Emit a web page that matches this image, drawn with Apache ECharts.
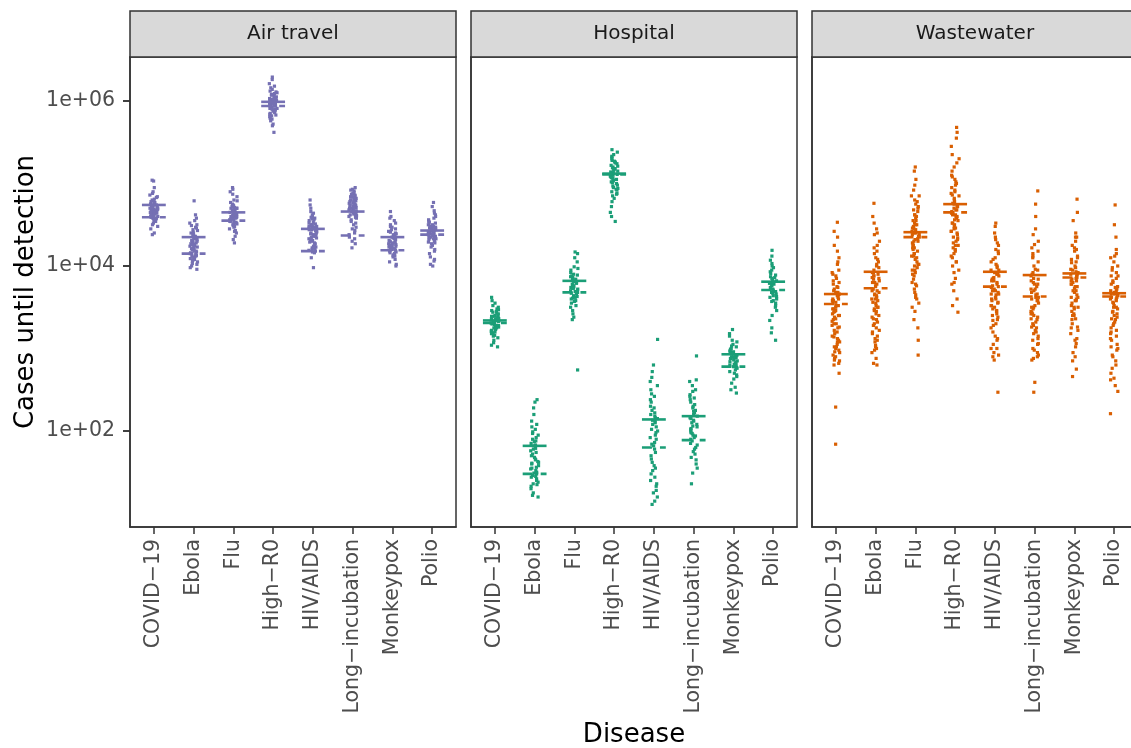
<!DOCTYPE html>
<html>
<head>
<meta charset="utf-8">
<script src="https://cdn.jsdelivr.net/npm/echarts@6/dist/echarts.min.js"></script>
<style>
  html, body { margin: 0; padding: 0; background: #ffffff; }
  #chart { width: 1131px; height: 748px; }
</style>
</head>
<body>
<div id="chart"></div>
<script>
// ---------- DATA (values are log10 of "cases until detection") ----------
const diseases = ['COVID\u221219', 'Ebola', 'Flu', 'High\u2212R0', 'HIV/AIDS', 'Long\u2212incubation', 'Monkeypox', 'Polio'];
const facets = ['Air travel', 'Hospital', 'Wastewater'];
const yTickValues = [100, 10000, 1000000];

// Air travel
const airCovid = [4.72,4.65,4.81,4.58,4.69,4.77,4.62,4.88,4.55,4.70,4.66,4.74,4.60,4.83,4.52,4.68,4.79,4.63,4.71,4.57,4.95,4.67,4.61,4.75,4.50,4.64,4.86,4.59,4.73,4.69,4.54,4.80,4.66,4.62,4.76,4.48,4.70,5.03,4.58,4.65,4.84,4.61,4.72,4.56,4.68,5.04,4.63,4.78,4.45,4.67,4.60,4.74,4.40,4.90,4.64,4.57,4.71,4.38,4.68,4.62,4.75,4.58,4.70,4.65];
const airEbola = [4.35,4.22,4.41,4.15,4.28,4.47,4.10,4.33,4.19,4.52,4.26,4.08,4.38,4.13,4.30,4.44,4.21,4.05,4.36,4.17,4.58,4.24,4.11,4.32,4.49,4.14,4.27,4.02,4.40,4.20,4.79,4.29,4.07,4.34,4.16,4.55,4.23,4.00,4.31,4.12,4.46,4.25,3.98,4.37,4.18,4.62,4.09,4.28,4.43,3.96,4.21,4.06,4.39,4.15,4.50,4.26,4.03,4.33,4.18,4.24,4.12,4.30];
const airFlu = [4.65,4.58,4.72,4.51,4.62,4.80,4.55,4.68,4.47,4.75,4.60,4.53,4.70,4.43,4.66,4.84,4.57,4.63,4.49,4.73,4.59,4.90,4.54,4.67,4.40,4.61,4.77,4.52,4.64,4.45,4.71,4.56,4.95,4.60,4.69,4.36,4.58,4.74,4.50,4.66,4.87,4.54,4.62,4.32,4.70,4.57,4.79,4.48,4.64,4.28,4.61,4.93,4.55,4.68,4.42,4.59,4.63,4.57,4.70,4.52];
const airHighR0 = [5.98,5.92,6.05,5.87,6.01,5.95,6.12,5.83,5.99,6.08,5.90,6.03,5.79,5.96,6.16,5.88,6.00,5.93,6.21,5.85,6.06,5.97,5.76,6.02,5.91,6.10,5.81,5.94,6.14,5.89,6.04,5.72,5.98,6.26,5.86,6.00,5.95,6.09,5.78,5.92,6.18,5.84,6.03,5.96,5.70,6.07,5.90,6.29,5.97,5.82,6.01,5.62,5.94,6.11,5.88,5.99,5.96,6.02,5.91,5.98];
const airHiv = [4.45,4.38,4.55,4.29,4.50,4.41,4.62,4.33,4.47,4.24,4.58,4.36,4.52,4.20,4.44,4.66,4.31,4.49,4.39,4.18,4.57,4.34,4.46,4.27,4.60,4.42,4.22,4.53,4.37,4.70,4.30,4.48,4.19,4.43,4.56,4.26,4.40,4.64,4.32,4.51,4.17,4.45,4.35,4.74,4.23,4.47,4.28,4.59,4.39,4.80,4.21,4.44,4.10,4.33,3.98,4.48,4.16,4.36,4.42,4.50,4.38,4.46];
const airLong = [4.78,4.70,4.85,4.62,4.74,4.91,4.66,4.81,4.58,4.73,4.88,4.64,4.76,4.54,4.83,4.68,4.93,4.60,4.79,4.71,4.50,4.86,4.65,4.75,4.95,4.56,4.72,4.82,4.61,4.77,4.47,4.69,4.89,4.63,4.80,4.43,4.74,4.67,4.92,4.38,4.59,4.84,4.35,4.70,4.52,4.33,4.76,4.30,4.62,4.27,4.87,4.40,4.22,4.66,4.45,4.80,4.72,4.78,4.68,4.84];
const airMonkeypox = [4.35,4.27,4.42,4.21,4.31,4.48,4.18,4.38,4.24,4.55,4.29,4.14,4.40,4.22,4.33,4.60,4.19,4.36,4.26,4.11,4.45,4.30,4.16,4.37,4.23,4.52,4.28,4.08,4.41,4.20,4.34,4.13,4.47,4.25,4.66,4.17,4.39,4.05,4.32,4.22,4.50,4.15,4.29,4.02,4.36,4.19,4.44,4.00,4.26,4.58,4.12,4.33,4.28,4.24,4.35,4.20];
const airPolio = [4.42,4.36,4.50,4.31,4.45,4.39,4.56,4.28,4.47,4.34,4.62,4.40,4.25,4.52,4.37,4.44,4.20,4.58,4.33,4.48,4.41,4.15,4.54,4.38,4.67,4.30,4.46,4.35,4.11,4.50,4.42,4.72,4.27,4.43,4.06,4.39,4.60,4.32,4.49,4.23,4.44,4.77,4.36,4.02,4.53,4.29,4.41,4.00,4.47,4.34,4.64,4.18,4.40,4.08,4.45,4.38,4.43,4.33,4.48];

// Hospital
const hospCovid = [3.34,3.28,3.41,3.22,3.37,3.31,3.46,3.25,3.39,3.19,3.33,3.50,3.27,3.43,3.21,3.36,3.30,3.55,3.16,3.38,3.24,3.45,3.32,3.13,3.40,3.26,3.58,3.35,3.20,3.42,3.29,3.10,3.47,3.23,3.37,3.62,3.18,3.33,3.07,3.44,3.28,3.52,3.15,3.36,3.04,3.31,3.48,3.25,3.02,3.39,3.33,3.30,3.36];
const hospEbola = [1.82,1.65,1.95,1.52,1.74,2.05,1.45,1.88,1.60,1.38,1.99,1.70,1.48,2.12,1.56,1.79,1.33,1.92,1.63,1.42,2.20,1.68,1.50,1.85,1.36,1.76,2.02,1.54,1.30,1.90,1.46,1.72,2.28,1.58,1.40,1.83,1.62,1.25,1.97,1.49,2.35,1.66,1.44,1.78,1.22,2.38,1.55,1.87,1.35,2.08,1.20,1.61];
const hospFlu = [3.78,3.70,3.86,3.64,3.81,3.92,3.58,3.75,3.88,3.67,3.99,3.73,3.61,3.84,3.55,3.79,4.05,3.69,3.90,3.50,3.77,3.63,3.95,3.72,3.46,3.83,3.66,4.10,3.60,3.87,3.74,3.42,3.80,3.68,4.15,3.57,3.85,3.38,3.71,3.97,3.62,4.17,3.76,3.52,3.89,3.35,3.73,2.74];
const hospHighR0 = [5.12,5.05,5.20,4.98,5.15,5.28,5.08,4.92,5.22,5.02,5.32,5.10,4.88,5.18,5.00,5.35,5.07,4.95,5.25,5.13,4.85,5.03,5.30,5.16,4.90,5.09,5.38,4.97,5.21,5.04,4.82,5.27,5.11,4.94,5.19,5.41,4.78,5.06,5.24,4.87,5.14,4.72,5.33,5.01,4.65,5.17,4.93,4.60,5.26,5.08,4.54];
const hospHiv = [2.15,1.98,2.30,1.82,2.08,2.45,1.70,2.20,1.55,2.38,1.92,2.12,1.40,2.55,1.78,2.25,1.62,2.02,2.65,1.48,2.18,1.86,2.10,1.33,2.42,1.95,1.66,2.28,1.25,2.05,2.72,1.58,2.16,1.74,1.20,2.35,1.90,2.80,1.44,2.22,1.52,2.00,1.15,2.50,1.36,1.84,2.60,1.28,1.11,2.13,3.11];
const hospLong = [2.18,2.05,2.30,1.95,2.12,2.40,1.88,2.22,2.00,2.48,1.80,2.15,2.35,1.92,2.08,2.55,1.72,2.25,2.02,1.85,2.44,2.10,1.65,2.28,1.97,2.60,1.78,2.16,2.38,1.90,1.60,2.20,2.06,2.62,1.75,2.32,1.94,1.55,2.13,2.50,1.83,2.24,1.68,2.03,1.49,2.42,1.98,1.36,2.91];
const hospMonkeypox = [2.90,2.83,2.97,2.77,2.92,3.05,2.72,2.88,3.00,2.80,3.10,2.86,2.68,2.95,2.79,3.15,2.85,2.63,2.99,2.74,3.02,2.90,2.58,2.82,3.08,2.76,2.94,2.53,2.87,3.18,2.70,2.96,2.81,3.23,2.66,2.89,2.50,2.84,3.03,2.46,2.91,2.78];
const hospPolio = [3.78,3.70,3.86,3.63,3.80,3.93,3.57,3.74,3.89,3.66,4.00,3.76,3.52,3.84,3.69,4.07,3.60,3.82,3.72,3.46,3.91,3.67,4.12,3.77,3.55,3.87,3.62,3.40,3.95,3.73,4.19,3.58,3.81,3.34,3.68,3.98,3.50,3.85,3.25,3.71,4.03,3.19,3.79,3.10,3.64];

// Wastewater
const wwCovid = [3.55,3.20,3.85,3.05,3.62,4.10,3.38,2.95,3.72,3.48,4.25,3.12,3.58,2.88,3.90,3.30,3.66,3.00,4.02,3.42,3.15,3.78,2.92,3.52,4.35,3.25,3.60,2.85,3.82,3.35,3.08,3.95,3.45,3.18,4.18,3.68,2.98,3.40,3.75,3.02,4.53,3.28,3.50,2.82,3.88,3.10,3.65,3.33,4.42,2.90,3.56,3.22,3.70,2.80,3.46,2.70,2.29,1.84,3.52,3.36,3.74,3.08,3.44,3.92,3.26,3.60,2.96,3.68,3.14,3.80,3.48,3.02,3.58,3.30,4.05,3.40,2.86,3.64];
const wwEbola = [3.75,3.40,4.05,3.20,3.88,4.30,3.55,3.02,3.95,3.65,4.45,3.30,3.82,2.95,4.15,3.48,3.70,3.12,4.22,3.60,3.35,4.00,3.08,3.78,4.60,3.45,3.85,2.88,4.10,3.52,3.25,3.92,3.68,3.15,4.38,3.80,3.00,3.58,4.02,3.38,4.76,3.62,3.28,3.90,2.82,4.18,3.72,3.42,3.98,3.18,4.52,3.66,2.80,3.86,3.50,3.70,3.46,3.92,3.22,3.84,4.08,3.56,3.10,3.76,3.36,4.25,3.64,2.98,3.88,3.50,4.40,3.32,3.80,3.04,3.60];
const wwFlu = [4.40,4.15,4.62,3.95,4.35,4.80,4.05,4.52,3.80,4.28,4.70,3.65,4.45,4.10,4.92,3.88,4.33,4.58,3.72,4.20,4.98,4.00,4.48,3.55,4.38,4.75,3.92,4.25,4.66,3.60,4.42,4.12,5.05,3.84,4.30,4.55,3.45,4.18,4.85,3.98,4.36,3.35,4.60,4.08,5.15,3.76,4.46,3.25,4.22,4.72,3.68,4.02,5.20,3.10,4.50,2.92,4.32,4.38,4.12,4.55,3.90,4.44,4.68,4.02,4.30,3.78,4.50,4.22,4.85,3.62,4.40,4.15,4.62,3.50,4.26,4.78,3.95];
const wwHighR0 = [4.70,4.45,4.95,4.25,4.65,5.10,4.35,4.82,4.10,4.58,5.25,4.00,4.75,4.40,5.02,4.18,4.62,4.88,3.92,4.52,5.35,4.30,4.72,3.85,4.55,5.15,4.22,4.68,4.92,3.78,4.48,5.45,4.12,4.78,4.38,5.05,3.70,4.60,4.85,4.05,5.55,4.28,4.66,3.60,4.98,4.42,5.62,4.15,4.76,3.52,4.50,5.20,4.32,5.68,3.44,4.64,4.68,4.42,4.90,4.20,4.60,5.08,4.34,4.80,4.05,4.56,5.30,3.95,4.72,4.46,5.00,4.25,4.62,3.80,4.86,4.52];
const wwHiv = [3.85,3.60,4.05,3.42,3.78,4.20,3.55,3.95,3.25,3.70,4.32,3.48,3.88,3.10,4.10,3.65,3.82,3.35,4.40,3.58,3.00,3.92,3.72,4.25,3.38,3.80,2.95,4.00,3.62,4.48,3.30,3.75,4.15,3.50,2.90,3.86,3.68,4.52,3.20,3.98,3.45,4.35,3.15,3.76,2.86,4.08,3.52,3.90,3.05,3.66,2.47,3.82,3.56,4.02,3.40,3.74,4.18,3.28,3.90,3.12,3.66,4.28,3.46,3.84,3.00,3.60,3.95,3.34,3.70,2.92,3.52];
const wwLong = [3.70,3.45,3.95,3.25,3.62,4.15,3.38,3.82,3.10,3.55,4.30,3.30,3.75,3.00,4.05,3.50,3.68,3.18,4.45,3.42,2.95,3.88,3.60,4.22,3.35,3.78,2.90,4.00,3.48,4.60,3.22,3.65,4.10,3.40,2.88,3.85,3.58,4.75,3.15,3.92,3.32,4.38,3.05,3.72,2.86,4.91,3.52,3.80,3.28,4.18,2.59,2.47,3.66,3.42,3.90,3.20,3.58,4.12,3.36,3.78,3.06,3.50,4.26,2.98,3.72,3.26,3.96,3.44,3.62,3.12,3.84,2.92];
const wwMonkeypox = [3.88,3.62,4.08,3.45,3.82,4.25,3.55,3.95,3.30,3.75,4.40,3.50,3.90,3.18,4.12,3.68,3.85,3.40,4.55,3.60,3.10,4.00,3.78,4.30,3.35,3.92,3.02,4.18,3.70,4.65,3.25,3.80,4.05,3.48,2.95,3.98,3.65,4.81,3.22,3.86,3.42,4.35,2.85,3.73,2.75,4.22,3.58,2.66,3.93,3.12,3.84,3.58,4.04,3.40,3.78,4.20,3.50,3.90,3.26,3.70,4.35,3.06,3.82,3.62,4.10,3.36,3.96,2.90,3.75,3.52];
const wwPolio = [3.65,3.40,3.85,3.22,3.60,4.05,3.30,3.75,3.05,3.52,4.20,3.15,3.70,2.90,3.92,3.45,3.62,2.98,4.35,3.35,2.80,3.80,3.55,4.10,3.25,3.68,2.70,3.95,3.42,4.50,3.10,3.58,3.88,3.32,2.62,3.72,3.48,4.74,3.00,3.78,3.20,4.15,2.85,3.64,2.55,3.98,3.38,2.48,3.66,2.21,3.50,3.62,3.36,3.82,3.18,3.56,4.00,3.28,3.70,3.02,3.50,4.12,2.92,3.66,3.44,3.88,2.76,3.60,3.12,3.74,2.64];

// Summary lines (log10): solid = mean, dashed = median
const airMean = [4.74, 4.35, 4.65, 5.99, 4.45, 4.66, 4.35, 4.43];
const airMedian = [4.59, 4.15, 4.55, 5.94, 4.18, 4.37, 4.19, 4.38];
const hospMean = [3.34, 1.82, 3.82, 5.12, 2.14, 2.18, 2.93, 3.81];
const hospMedian = [3.31, 1.48, 3.68, 5.11, 1.80, 1.89, 2.78, 3.71];
const wwMean = [3.66, 3.93, 4.41, 4.75, 3.93, 3.89, 3.91, 3.67];
const wwMedian = [3.54, 3.73, 4.35, 4.65, 3.75, 3.63, 3.86, 3.63];

// ---------- BUILD ----------
const facetPoints = [
  [airCovid, airEbola, airFlu, airHighR0, airHiv, airLong, airMonkeypox, airPolio],
  [hospCovid, hospEbola, hospFlu, hospHighR0, hospHiv, hospLong, hospMonkeypox, hospPolio],
  [wwCovid, wwEbola, wwFlu, wwHighR0, wwHiv, wwLong, wwMonkeypox, wwPolio]
];
const facetMeans = [airMean, hospMean, wwMean];
const facetMedians = [airMedian, hospMedian, wwMedian];
const colors = ['#7570B3', '#1B9E77', '#D95F02'];

const FONT = 'DejaVu Sans';
const gridLeft = [130, 471, 812];
const gridTop = 57, gridW = 326, gridH = 470;
const stripTop = 11;
const tickLen = 7;

// deterministic horizontal jitter (position only)
function jit(i, g, f) {
  const s = Math.sin((i + 1) * 12.9898 + g * 78.233 + f * 37.719) * 43758.5453;
  return (s - Math.floor(s)) - 0.5;
}
const pow10 = v => Math.pow(10, v);
const fmtSci = v => {
  const e = Math.round(Math.log10(v));
  return '1e+' + String(e).padStart(2, '0');
};

const grids = [], xAxes = [], yAxes = [], series = [], graphics = [];
facets.forEach((name, f) => {
  grids.push({
    left: gridLeft[f], top: gridTop, width: gridW, height: gridH,
    show: true, borderColor: '#333333', borderWidth: 1.5, backgroundColor: '#ffffff',
    containLabel: false, outerBoundsMode: 'none'
  });
  xAxes.push({
    type: 'value', gridIndex: f, min: -0.6, max: 7.6, position: 'bottom',
    axisLine: { show: true, onZero: false, lineStyle: { color: '#333333', width: 1.5 } },
    splitLine: { show: false },
    axisTick: { show: true, customValues: [0,1,2,3,4,5,6,7], length: tickLen, lineStyle: { color: '#333333', width: 1.5 } },
    axisLabel: {
      show: true, customValues: [0,1,2,3,4,5,6,7],
      formatter: v => diseases[Math.round(v)],
      rotate: 90, fontSize: 20.5, color: '#4D4D4D', margin: 12, fontFamily: FONT
    }
  });
  yAxes.push({
    type: 'log', logBase: 10, gridIndex: f, min: pow10(0.8364), max: pow10(6.5333),
    axisLine: { show: true, onZero: false, lineStyle: { color: '#333333', width: 1.5 } },
    splitLine: { show: false },
    axisTick: { show: f === 0, customValues: yTickValues, length: tickLen, lineStyle: { color: '#333333', width: 1.5 } },
    axisLabel: {
      show: f === 0, customValues: yTickValues, formatter: fmtSci,
      fontSize: 20.5, color: '#4D4D4D', margin: 15, fontFamily: FONT
    }
  });

  const pts = [];
  facetPoints[f].forEach((arr, g) => {
    arr.forEach((v, i) => pts.push([g + jit(i, g, f) * 0.2, pow10(v)]));
  });
  series.push({
    type: 'scatter', xAxisIndex: f, yAxisIndex: f, data: pts,
    symbol: 'rect', symbolSize: 3.2, itemStyle: { color: colors[f], opacity: 1 },
    silent: true, z: 2
  });

  [[facetMeans[f], null], [facetMedians[f], [10, 8]]].forEach(([vals, dash]) => {
    series.push({
      type: 'custom', xAxisIndex: f, yAxisIndex: f, z: 3, silent: true,
      data: vals.map((v, g) => [g, pow10(v)]),
      encode: { x: 0, y: 1 },
      renderItem: (params, api) => {
        const x = api.value(0), y = api.value(1);
        const p1 = api.coord([x - 0.3, y]);
        const p2 = api.coord([x + 0.3, y]);
        return {
          type: 'line',
          shape: { x1: p1[0], y1: p1[1], x2: p2[0], y2: p2[1] },
          style: { stroke: colors[f], lineWidth: 2.6, lineDash: dash || null, fill: null }
        };
      }
    });
  });

  graphics.push({
    type: 'rect', z: 10,
    shape: { x: gridLeft[f], y: stripTop, width: gridW, height: gridTop - stripTop },
    style: { fill: '#D9D9D9', stroke: '#333333', lineWidth: 1.5 }
  });
  graphics.push({
    type: 'text', z: 11, x: gridLeft[f] + gridW / 2, y: (stripTop + gridTop) / 2,
    style: { text: name, fill: '#1A1A1A', font: '20px "DejaVu Sans"',
             align: 'center', verticalAlign: 'middle', textAlign: 'center', textVerticalAlign: 'middle' }
  });
});

graphics.push({
  type: 'text', x: 26, y: gridTop + gridH / 2, rotation: Math.PI / 2,
  style: { text: 'Cases until detection', fill: '#000000', font: '26px "DejaVu Sans"',
           align: 'center', verticalAlign: 'middle', textAlign: 'center', textVerticalAlign: 'middle' }
});
graphics.push({
  type: 'text', x: 634, y: 735,
  style: { text: 'Disease', fill: '#000000', font: '26px "DejaVu Sans"',
           align: 'center', verticalAlign: 'middle', textAlign: 'center', textVerticalAlign: 'middle' }
});

const chart = echarts.init(document.getElementById('chart'), null, { renderer: 'canvas' });
chart.setOption({
  animation: false,
  backgroundColor: '#ffffff',
  grid: grids,
  xAxis: xAxes,
  yAxis: yAxes,
  series: series
});

// y-axis tick marks placed through the library's own log scale
yTickValues.forEach(v => {
  const py = chart.convertToPixel({ yAxisIndex: 0 }, v);
  graphics.push({
    type: 'line', z: 12,
    shape: { x1: gridLeft[0] - tickLen, y1: py, x2: gridLeft[0], y2: py },
    style: { stroke: '#333333', lineWidth: 1.5 }
  });
});
chart.setOption({ graphic: graphics });
</script>
</body>
</html>
